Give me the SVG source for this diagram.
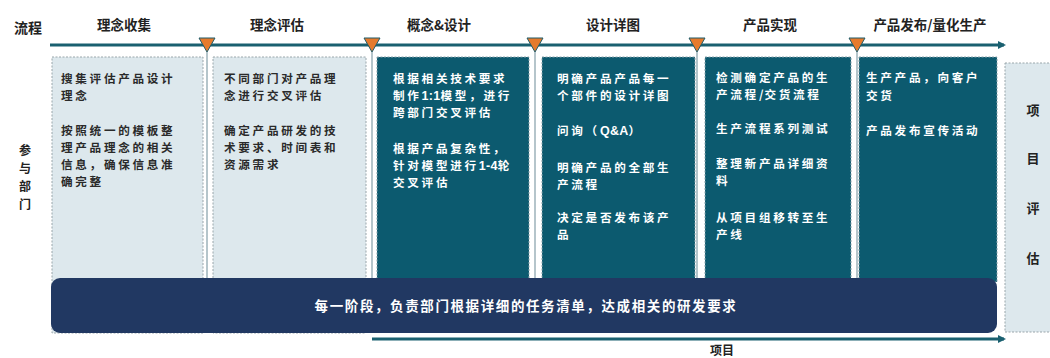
<svg xmlns="http://www.w3.org/2000/svg" width="1050" height="358" viewBox="0 0 1050 358">
<defs>
<style>
.t{font-family:"Noto Sans CJK SC","Liberation Sans",sans-serif;font-weight:700;}
.hd{font-size:13.5px;fill:#222;text-anchor:middle;}
.lt{font-size:11.6px;fill:#2a2a2a;letter-spacing:2.7px;}
.dk{font-size:11.6px;fill:#ffffff;letter-spacing:2.7px;}
.lat{font-family:"Liberation Sans",Arial,sans-serif;font-size:12.5px;letter-spacing:0.3px;}
.light{fill:#dde8ed;stroke:#9aa6ab;stroke-width:1;stroke-dasharray:2 1.5;}
.dark{fill:#0c5a6f;stroke:#8aa3ab;stroke-width:1;stroke-dasharray:2 1.5;}
.sep{stroke:#a3b7be;stroke-width:1.6;}
.tri{fill:#e57a2c;stroke:#1f5b68;stroke-width:1;}
.axis{stroke:#1a6070;stroke-width:3;fill:none;}
</style>
<marker id="ah" markerWidth="8" markerHeight="8" refX="6" refY="4" orient="auto" markerUnits="userSpaceOnUse">
<path d="M0,0 L8,4 L0,8 Z" fill="#1a6070"/>
</marker>
</defs>
<rect width="1050" height="358" fill="#ffffff"/>

<g id="labels-left">
<text class="t" x="28" y="33" font-size="14" fill="#222" text-anchor="middle">流程</text>
<text class="t" font-size="12" fill="#222" text-anchor="middle"><tspan x="25" y="155">参</tspan><tspan x="25" y="173">与</tspan><tspan x="25" y="191">部</tspan><tspan x="25" y="209">门</tspan></text>
</g>

<g id="connectors">
<line class="axis" x1="50" y1="45" x2="1004" y2="45" marker-end="url(#ah)"/>
<line class="sep" x1="207" y1="52" x2="207" y2="280"/>
<line class="sep" x1="372" y1="52" x2="372" y2="280"/>
<line class="sep" x1="535" y1="52" x2="535" y2="280"/>
<line class="sep" x1="697" y1="52" x2="697" y2="280"/>
<line class="sep" x1="857" y1="52" x2="857" y2="280"/>
<line class="axis" x1="372" y1="339" x2="1004" y2="339" marker-end="url(#ah)"/>
</g>

<g id="milestones">
<path class="tri" d="M199,38 L215,38 L207,52 Z"/>
<path class="tri" d="M364,38 L380,38 L372,52 Z"/>
<path class="tri" d="M527,38 L543,38 L535,52 Z"/>
<path class="tri" d="M689,38 L705,38 L697,52 Z"/>
<path class="tri" d="M849,38 L865,38 L857,52 Z"/>
</g>

<g id="headers">
<text class="t hd" x="124" y="30">理念收集</text>
<text class="t hd" x="277" y="30">理念评估</text>
<text class="t hd" x="439" y="30">概念&amp;设计</text>
<text class="t hd" x="613" y="30">设计详图</text>
<text class="t hd" x="770" y="30">产品实现</text>
<text class="t hd" x="930" y="30">产品发布/量化生产</text>
</g>

<g id="stage1">
<rect class="light" x="52" y="57" width="151" height="276"/>
<text class="t lt"><tspan x="61" y="83">搜集评估产品设计</tspan><tspan x="61" y="100">理念</tspan><tspan x="61" y="135">按照统一的模板整</tspan><tspan x="61" y="152">理产品理念的相关</tspan><tspan x="61" y="169">信息，确保信息准</tspan><tspan x="61" y="186">确完整</tspan></text>
</g>

<g id="stage2">
<rect class="light" x="213" y="57" width="153" height="276"/>
<text class="t lt"><tspan x="224" y="83">不同部门对产品理</tspan><tspan x="224" y="100">念进行交叉评估</tspan><tspan x="224" y="135">确定产品研发的技</tspan><tspan x="224" y="152">术要求、时间表和</tspan><tspan x="224" y="169">资源需求</tspan></text>
</g>

<g id="stage3">
<rect class="dark" x="377" y="57" width="152" height="225"/>
<text class="t dk"><tspan x="393" y="83">根据相关技术要求</tspan><tspan x="393" y="100">制作<tspan class="lat">1:1</tspan>模型，进行</tspan><tspan x="393" y="117">跨部门交叉评估</tspan><tspan x="393" y="153">根据产品复杂性，</tspan><tspan x="393" y="170">针对模型进行<tspan class="lat">1-4</tspan>轮</tspan><tspan x="393" y="187">交叉评估</tspan></text>
</g>

<g id="stage4">
<rect class="dark" x="542" y="57" width="153" height="225"/>
<text class="t dk"><tspan x="557" y="83">明确产品产品每一</tspan><tspan x="557" y="100">个部件的设计详图</tspan><tspan x="557" y="135">问询（<tspan class="lat">Q&amp;A</tspan>）</tspan><tspan x="557" y="172">明确产品的全部生</tspan><tspan x="557" y="189">产流程</tspan><tspan x="557" y="222">决定是否发布该产</tspan><tspan x="557" y="239">品</tspan></text>
</g>

<g id="stage5">
<rect class="dark" x="705" y="57" width="146" height="225"/>
<text class="t dk"><tspan x="716" y="82">检测确定产品的生</tspan><tspan x="716" y="99">产流程<tspan letter-spacing="1">/</tspan>交货流程</tspan><tspan x="716" y="133">生产流程系列测试</tspan><tspan x="716" y="168">整理新产品详细资</tspan><tspan x="716" y="185">料</tspan><tspan x="716" y="222">从项目组移转至生</tspan><tspan x="716" y="239">产线</tspan></text>
</g>

<g id="stage6">
<rect class="dark" x="859" y="57" width="138" height="225"/>
<text class="t dk"><tspan x="866" y="82">生产产品，向客户</tspan><tspan x="866" y="100">交货</tspan><tspan x="866" y="135">产品发布宣传活动</tspan></text>
</g>

<g id="evaluation">
<rect class="light" x="1005" y="63" width="52" height="269"/>
<text class="t" font-size="13" fill="#222" text-anchor="middle"><tspan x="1033" y="115">项</tspan><tspan x="1033" y="163">目</tspan><tspan x="1033" y="213">评</tspan><tspan x="1033" y="263">估</tspan></text>
</g>

<g id="tasklist">
<rect x="51" y="278" width="946" height="55" rx="9" fill="#213862"/>
<text class="t" x="526" y="311" font-size="13.5" fill="#ffffff" text-anchor="middle" letter-spacing="1.6">每一阶段，负责部门根据详细的任务清单，达成相关的研发要求</text>
</g>

<g id="project-label">
<text class="t" x="722" y="355" font-size="12" fill="#222" text-anchor="middle">项目</text>
</g>
</svg>
